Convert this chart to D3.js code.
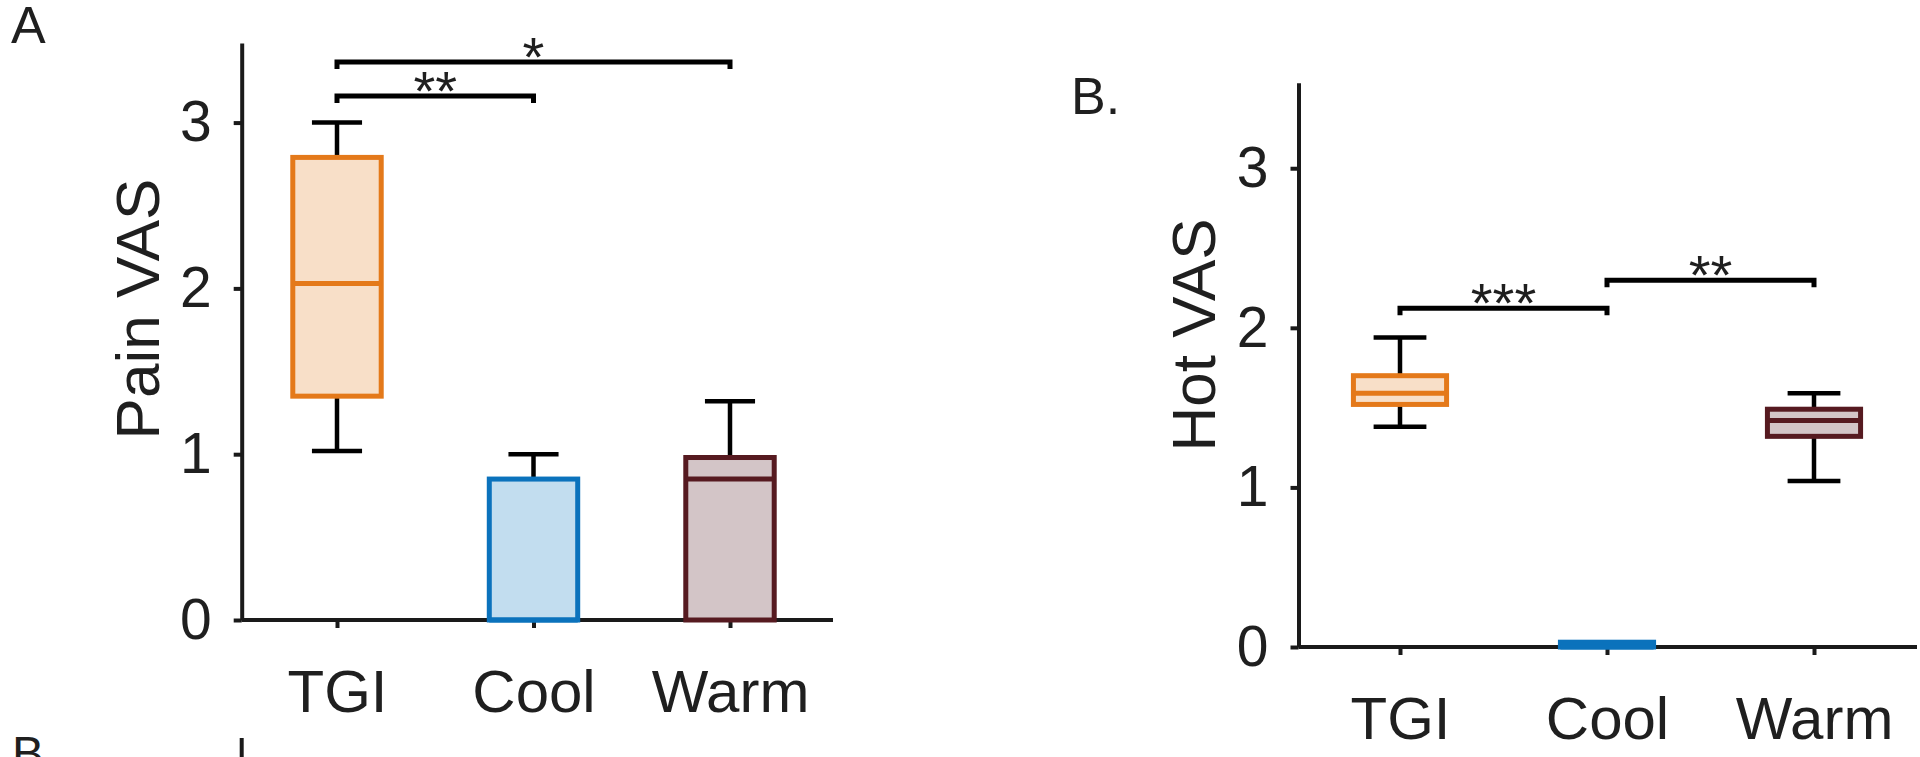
<!DOCTYPE html>
<html>
<head>
<meta charset="utf-8">
<style>
  html, body { margin: 0; padding: 0; background: #fff; overflow: hidden; }
  svg { display: block; }
  text { font-family: 'Liberation Sans', Arial, Helvetica, sans-serif; fill: #1f1f1f; }
</style>
<script src="https://cdn.jsdelivr.net/npm/d3@7.9.0/dist/d3.min.js"></script>
</head>
<body>
<svg id="chart"></svg>
<script>
const width = 1920;
const height = 757;

const categories = ['TGI', 'Cool', 'Warm'];
const yTicks = [0, 1, 2, 3];

// Pain VAS (panel A) box stats per category
const painMin = [1.02, 0, 0];
const painQ1 = [1.35, 0, 0];
const painMedian = [2.03, 0, 0.85];
const painQ3 = [2.79, 0.85, 0.98];
const painMax = [3.0, 1.0, 1.32];
const painSig = [
  { from: 'TGI', to: 'Cool', level: 3.16, label: '**' },
  { from: 'TGI', to: 'Warm', level: 3.365, label: '*' },
];

// Hot VAS (panel B)
const hotMin = [1.38, 0, 1.04];
const hotQ1 = [1.52, 0, 1.32];
const hotMedian = [1.59, 0, 1.42];
const hotQ3 = [1.70, 0.03, 1.49];
const hotMax = [1.94, 0, 1.59];
const hotSig = [
  { from: 'TGI', to: 'Cool', level: 2.122, label: '***' },
  { from: 'Cool', to: 'Warm', level: 2.298, label: '**' },
];

const strokeColors = { TGI: '#E4791A', Cool: '#0B72BC', Warm: '#561A20' };
const fillColors = { TGI: '#F8DFC8', Cool: '#C2DDEF', Warm: '#D3C5C7' };

function toRows(mins, q1s, meds, q3s, maxs) {
  return categories.map((c, i) => ({
    cat: c, min: mins[i], q1: q1s[i], median: meds[i], q3: q3s[i], max: maxs[i],
  }));
}

const panels = [
  {
    label: 'A', labelX: 11, labelY: 43,
    title: 'Pain VAS', titleX: 159, titleY: 309,
    rows: toRows(painMin, painQ1, painMedian, painQ3, painMax),
    sig: painSig,
    yMax: 3.48, left: 241.7, right: 833, top: 43, bottom: 620,
    firstX: 337, lastX: 730,
  },
  {
    label: 'B.', labelX: 1071, labelY: 114,
    title: 'Hot VAS', titleX: 1215, titleY: 335,
    rows: toRows(hotMin, hotQ1, hotMedian, hotQ3, hotMax),
    sig: hotSig,
    yMax: 3.536, left: 1298.5, right: 1917, top: 82.7, bottom: 647,
    firstX: 1400, lastX: 1814,
  },
];

const svg = d3.select('#chart')
  .attr('width', width)
  .attr('height', height)
  .attr('viewBox', `0 0 ${width} ${height}`);

function drawPanel(p) {
  const g = svg.append('g');

  const y = d3.scaleLinear().domain([0, p.yMax]).range([p.bottom, p.top]);
  const x = d3.scalePoint().domain(categories).range([p.firstX, p.lastX]);
  const step = x.step();
  const boxW = step * 0.45;
  const capW = step * 0.255;

  // y axis
  const yAxis = g.append('g')
    .attr('transform', `translate(${p.left},0)`)
    .call(d3.axisLeft(y).tickValues(yTicks).tickFormat(d3.format('d'))
      .tickSize(8).tickPadding(22).tickSizeOuter(0));
  yAxis.select('.domain').attr('stroke', '#1a1a1a').attr('stroke-width', 4);
  yAxis.selectAll('.tick line').attr('stroke', '#1a1a1a').attr('stroke-width', 4);
  yAxis.selectAll('.tick text')
    .style('font-size', '57px')
    .attr('fill', '#1f1f1f');
  yAxis.attr('font-family', null).attr('font-size', null);

  // x axis baseline + category labels
  g.append('line')
    .attr('x1', p.left).attr('x2', p.right)
    .attr('y1', y(0)).attr('y2', y(0))
    .attr('stroke', '#1a1a1a').attr('stroke-width', 4);

  const xAxis = g.append('g')
    .attr('transform', `translate(0,${y(0)})`)
    .call(d3.axisBottom(x).tickSize(8).tickPadding(41));
  xAxis.select('.domain').remove();
  xAxis.selectAll('.tick line').attr('stroke', '#1a1a1a').attr('stroke-width', 4);
  xAxis.selectAll('.tick text')
    .style('font-size', '60px')
    .attr('fill', '#1f1f1f');
  xAxis.attr('font-family', null).attr('font-size', null);

  // axis title
  g.append('text')
    .attr('transform', `translate(${p.titleX},${p.titleY}) rotate(-90)`)
    .attr('text-anchor', 'middle')
    .style('font-size', '62px')
    .text(p.title);

  // panel letter
  g.append('text')
    .attr('x', p.labelX).attr('y', p.labelY)
    .style('font-size', '52px')
    .text(p.label);

  const boxes = g.append('g').selectAll('g')
    .data(p.rows)
    .join('g');

  // whiskers
  const upper = boxes.filter((d) => d.max > d.q3);
  upper.append('line')
    .attr('x1', (d) => x(d.cat)).attr('x2', (d) => x(d.cat))
    .attr('y1', (d) => y(d.q3)).attr('y2', (d) => y(d.max))
    .attr('stroke', '#000').attr('stroke-width', 4.5);
  upper.append('line')
    .attr('x1', (d) => x(d.cat) - capW / 2).attr('x2', (d) => x(d.cat) + capW / 2)
    .attr('y1', (d) => y(d.max)).attr('y2', (d) => y(d.max))
    .attr('stroke', '#000').attr('stroke-width', 4.5);
  const lower = boxes.filter((d) => d.min < d.q1);
  lower.append('line')
    .attr('x1', (d) => x(d.cat)).attr('x2', (d) => x(d.cat))
    .attr('y1', (d) => y(d.q1)).attr('y2', (d) => y(d.min))
    .attr('stroke', '#000').attr('stroke-width', 4.5);
  lower.append('line')
    .attr('x1', (d) => x(d.cat) - capW / 2).attr('x2', (d) => x(d.cat) + capW / 2)
    .attr('y1', (d) => y(d.min)).attr('y2', (d) => y(d.min))
    .attr('stroke', '#000').attr('stroke-width', 4.5);

  // box
  boxes.append('rect')
    .attr('x', (d) => x(d.cat) - boxW / 2)
    .attr('width', boxW)
    .attr('y', (d) => y(d.q3))
    .attr('height', (d) => y(d.q1) - y(d.q3))
    .attr('fill', (d) => fillColors[d.cat])
    .attr('stroke', (d) => strokeColors[d.cat])
    .attr('stroke-width', 5);

  // median
  boxes.append('line')
    .attr('x1', (d) => x(d.cat) - boxW / 2).attr('x2', (d) => x(d.cat) + boxW / 2)
    .attr('y1', (d) => y(d.median)).attr('y2', (d) => y(d.median))
    .attr('stroke', (d) => strokeColors[d.cat])
    .attr('stroke-width', 5);

  // significance brackets
  const tip = 7;
  const sig = g.append('g').selectAll('g').data(p.sig).join('g');
  sig.append('path')
    .attr('d', (d) => {
      const x1 = x(d.from), x2 = x(d.to), yy = y(d.level);
      return `M${x1},${yy + tip}V${yy}H${x2}V${yy + tip}`;
    })
    .attr('fill', 'none')
    .attr('stroke', '#000')
    .attr('stroke-width', 5);
  sig.append('text')
    .attr('x', (d) => (x(d.from) + x(d.to)) / 2)
    .attr('y', (d) => y(d.level) + 14)
    .attr('text-anchor', 'middle')
    .style('font-size', '56px')
    .text((d) => d.label);
}

panels.forEach(drawPanel);

// top edge of the next figure row, cut off by the frame
svg.append('text')
  .attr('x', 12).attr('y', 770)
  .style('font-size', '48px')
  .text('B');
svg.append('line')
  .attr('x1', panels[0].left).attr('x2', panels[0].left)
  .attr('y1', 738).attr('y2', height)
  .attr('stroke', '#1a1a1a').attr('stroke-width', 4);
</script>
</body>
</html>
